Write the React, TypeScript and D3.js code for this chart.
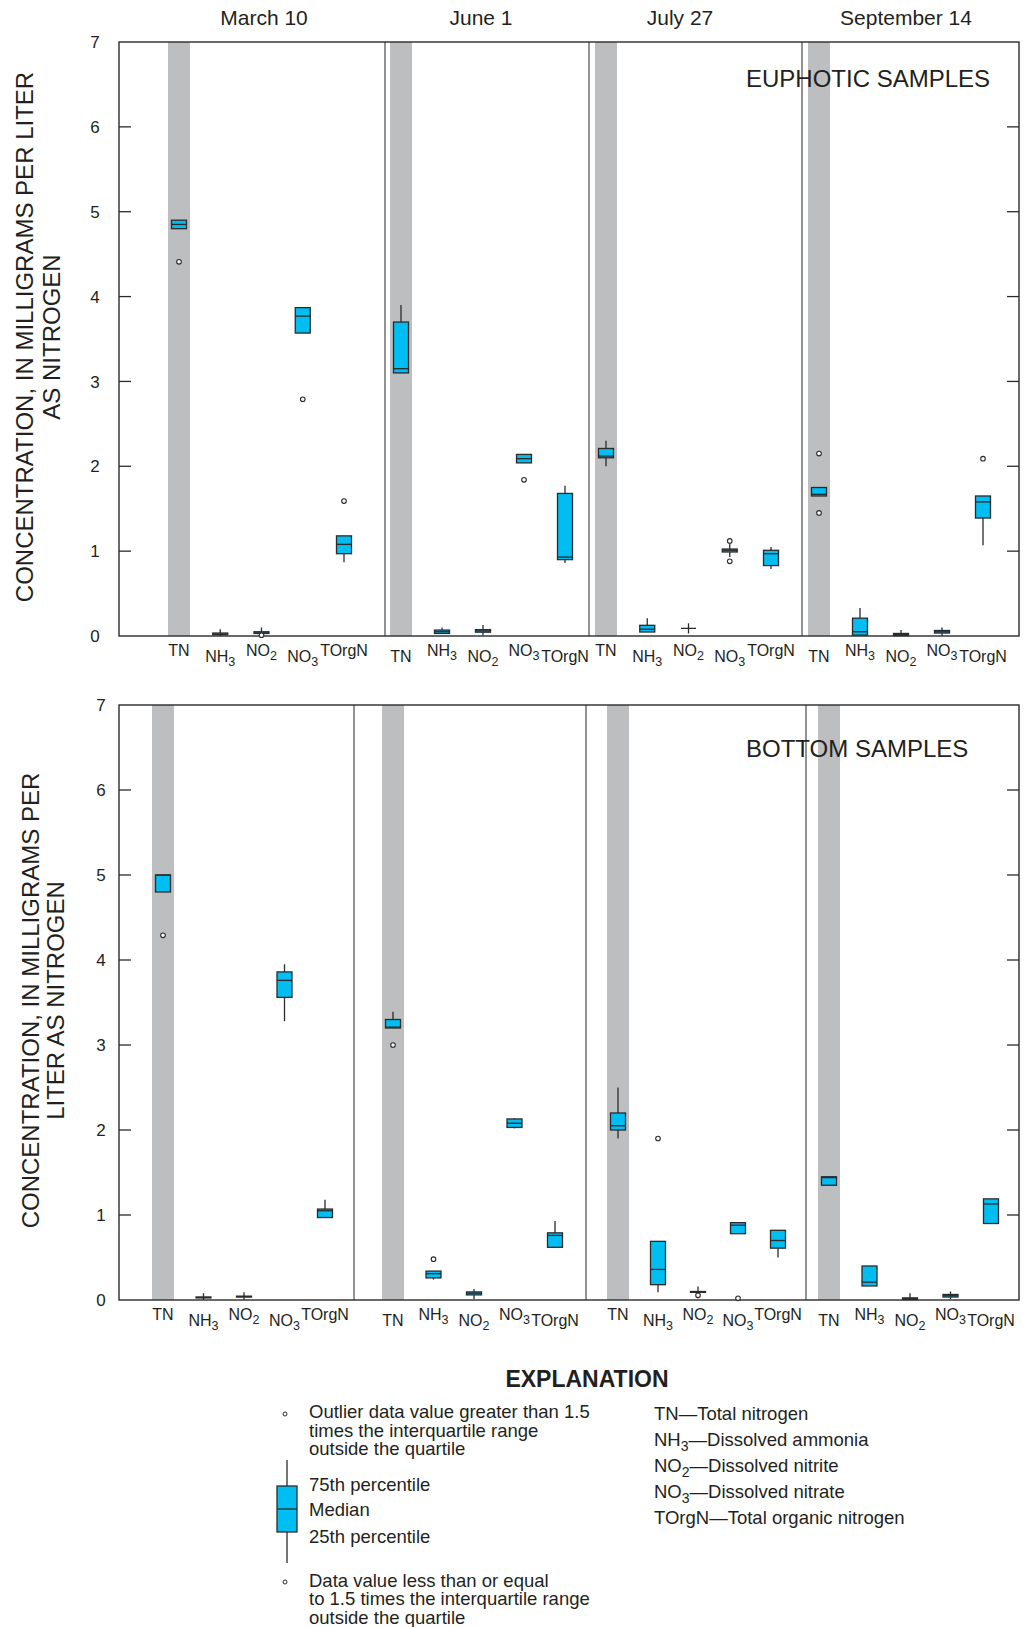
import React from "react";
import * as d3 from "d3";

// Sampling dates and constituents
const dates = ["March 10", "June 1", "July 27", "September 14"];
const categories = ["TN", "NH3", "NO2", "NO3", "TOrgN"];
const yTicks = [0, 1, 2, 3, 4, 5, 6, 7];

// box stats: [low whisker, 25th, median, 75th, high whisker, outliers]
type Box = [number, number, number, number, number, number[]];

const euphoticMarch: Box[] = [
  [4.8, 4.8, 4.85, 4.9, 4.9, [4.41]],
  [0.0, 0.015, 0.02, 0.035, 0.08, []],
  [0.0, 0.03, 0.035, 0.05, 0.1, [0.01]],
  [3.57, 3.57, 3.77, 3.87, 3.87, [2.79]],
  [0.87, 0.97, 1.08, 1.18, 1.18, [1.59]],
];
const euphoticJune: Box[] = [
  [3.1, 3.1, 3.15, 3.7, 3.9, []],
  [0.03, 0.03, 0.05, 0.07, 0.1, []],
  [0.01, 0.045, 0.06, 0.075, 0.13, []],
  [2.04, 2.04, 2.09, 2.14, 2.14, [1.84]],
  [0.86, 0.9, 0.93, 1.68, 1.77, []],
];
const euphoticJuly: Box[] = [
  [2.0, 2.1, 2.12, 2.21, 2.3, []],
  [0.047, 0.047, 0.08, 0.126, 0.21, []],
  [0.03, 0.09, 0.09, 0.09, 0.15, []],
  [0.93, 0.99, 1.01, 1.025, 1.09, [1.12, 0.88]],
  [0.79, 0.83, 0.97, 1.01, 1.05, []],
];
const euphoticSept: Box[] = [
  [1.65, 1.65, 1.67, 1.75, 1.75, [2.15, 1.45]],
  [0.01, 0.01, 0.05, 0.21, 0.33, []],
  [0.0, 0.005, 0.02, 0.03, 0.07, []],
  [0.0, 0.035, 0.05, 0.065, 0.1, []],
  [1.07, 1.39, 1.58, 1.65, 1.65, [2.09]],
];

const bottomMarch: Box[] = [
  [4.8, 4.8, 5.0, 5.0, 5.0, [4.29]],
  [0.0, 0.025, 0.03, 0.035, 0.08, []],
  [0.0, 0.035, 0.04, 0.045, 0.09, []],
  [3.28, 3.56, 3.76, 3.86, 3.95, []],
  [0.97, 0.97, 1.05, 1.07, 1.18, []],
];
const bottomJune: Box[] = [
  [3.2, 3.2, 3.21, 3.3, 3.39, [3.0]],
  [0.24, 0.26, 0.31, 0.34, 0.34, [0.48]],
  [0.01, 0.06, 0.08, 0.095, 0.13, []],
  [2.02, 2.03, 2.08, 2.13, 2.14, []],
  [0.62, 0.62, 0.76, 0.79, 0.93, []],
];
const bottomJuly: Box[] = [
  [1.9, 2.0, 2.05, 2.2, 2.5, []],
  [0.09, 0.18, 0.36, 0.69, 0.69, [1.9]],
  [0.02, 0.09, 0.09, 0.1, 0.16, [0.055]],
  [0.78, 0.78, 0.88, 0.91, 0.91, [0.02]],
  [0.5, 0.61, 0.7, 0.82, 0.82, []],
];
const bottomSept: Box[] = [
  [1.35, 1.35, 1.44, 1.45, 1.45, []],
  [0.165, 0.165, 0.21, 0.4, 0.4, []],
  [0.0, 0.005, 0.015, 0.025, 0.08, []],
  [0.01, 0.035, 0.05, 0.065, 0.1, []],
  [0.9, 0.9, 1.13, 1.19, 1.19, []],
];

const explanationLeft = [
  ["Outlier data value greater than 1.5", "times the interquartile range", "outside the quartile"],
  ["Data value less than or equal", "to 1.5 times the interquartile range", "outside the quartile"],
];
const boxLegend = ["75th percentile", "Median", "25th percentile"];
const explanationRight = [
  ["TN", "Total nitrogen"],
  ["NH3", "Dissolved ammonia"],
  ["NO2", "Dissolved nitrite"],
  ["NO3", "Dissolved nitrate"],
  ["TOrgN", "Total organic nitrogen"],
];

const FONT = "'Liberation Sans', Arial, Helvetica, sans-serif";
const INK = "#231f20";
const BOX_FILL = "#00bdf2";
const BAND = "#bcbec0";

const panels = [
  {
    data: [euphoticMarch, euphoticJune, euphoticJuly, euphoticSept],
    top: 42,
    bottom: 636,
    edges: [119, 385, 589, 802, 1019],
    spans: [[179, 344], [401, 565], [606, 771], [819, 983]],
    label: "EUPHOTIC SAMPLES",
    labelY: 87,
    tickX: 95,
    axisTitle: ["CONCENTRATION, IN MILLIGRAMS PER LITER", "AS NITROGEN"],
    axisTitleX: [33, 60],
  },
  {
    data: [bottomMarch, bottomJune, bottomJuly, bottomSept],
    top: 705,
    bottom: 1300,
    edges: [119, 354, 586, 806, 1019],
    spans: [[163, 325], [393, 555], [618, 778], [829, 991]],
    label: "BOTTOM SAMPLES",
    labelY: 757,
    tickX: 101,
    axisTitle: ["CONCENTRATION, IN MILLIGRAMS PER", "LITER AS NITROGEN"],
    axisTitleX: [39, 64],
  },
];

const dateX = [264, 481, 680, 906];
const boxW = 15;
const bandW = 22;

// splits "NO3" into ["NO", "3"]
const chem = (s: string) => {
  const m = s.match(/^(\D+)(\d)$/);
  return m ? [m[1], m[2]] : [s, ""];
};

const Chem = ({ name, sub = 12.5, shift = 4 }: { name: string; sub?: number; shift?: number }) => {
  const [base, digit] = chem(name);
  return (
    <>
      {base}
      {digit && (
        <tspan dy={shift} fontSize={sub}>
          {digit}
        </tspan>
      )}
    </>
  );
};

const Panel = ({ p, pIndex }: { p: (typeof panels)[number]; pIndex: number }) => {
  const y = d3.scaleLinear().domain([0, 7]).range([p.bottom, p.top]);
  const left = p.edges[0];
  const right = p.edges[p.edges.length - 1];

  return (
    <g>
      {/* gray TN bands */}
      {p.data.map((_, di) => {
        const x = d3.scalePoint<string>().domain(categories).range(p.spans[di] as [number, number]);
        return (
          <rect
            key={"band" + di}
            x={x("TN")! - bandW / 2}
            y={p.top}
            width={bandW}
            height={p.bottom - p.top}
            fill={BAND}
          />
        );
      })}

      {/* date dividers */}
      {p.edges.slice(1, -1).map((e, i) => (
        <line key={"div" + i} x1={e} x2={e} y1={p.top} y2={p.bottom} stroke="#3a3a3a" strokeWidth={1.1} />
      ))}

      {/* frame */}
      <rect x={left} y={p.top} width={right - left} height={p.bottom - p.top} fill="none" stroke="#2b2b2b" strokeWidth={1.4} />

      {/* ticks */}
      {yTicks.slice(1, -1).map((t) => (
        <g key={"t" + t}>
          <line x1={left} x2={left + 12} y1={y(t)} y2={y(t)} stroke="#2b2b2b" strokeWidth={1.3} />
          <line x1={right - 12} x2={right} y1={y(t)} y2={y(t)} stroke="#2b2b2b" strokeWidth={1.3} />
        </g>
      ))}
      {yTicks.map((t) => (
        <text key={"tl" + t} x={p.tickX} y={y(t)} dy="0.36em" textAnchor="middle" fontSize={17} fill={INK}>
          {t}
        </text>
      ))}

      {/* axis title */}
      {p.axisTitle.map((line, i) => (
        <text
          key={"at" + i}
          transform={`translate(${p.axisTitleX[i]},${(p.top + p.bottom) / 2 - 2}) rotate(-90)`}
          textAnchor="middle"
          fontSize={24}
          fill={INK}
        >
          {line}
        </text>
      ))}

      {/* boxes */}
      {p.data.map((boxes, di) => {
        const x = d3.scalePoint<string>().domain(categories).range(p.spans[di] as [number, number]);
        return boxes.map(([lo, q1, med, q3, hi, outs], ci) => {
          const cx = x(categories[ci])!;
          return (
            <g key={`b${di}-${ci}`}>
              {hi > q3 && <line x1={cx} x2={cx} y1={y(q3)} y2={y(hi)} stroke="#2b2b2b" strokeWidth={1.3} />}
              {lo < q1 && <line x1={cx} x2={cx} y1={y(q1)} y2={y(lo)} stroke="#2b2b2b" strokeWidth={1.3} />}
              <rect
                x={cx - boxW / 2}
                y={y(q3)}
                width={boxW}
                height={Math.max(0, y(q1) - y(q3))}
                fill={BOX_FILL}
                stroke="#2b2b2b"
                strokeWidth={1.3}
              />
              <line x1={cx - boxW / 2} x2={cx + boxW / 2} y1={y(med)} y2={y(med)} stroke="#2b2b2b" strokeWidth={1.3} />
              {outs.map((o, oi) => (
                <circle key={oi} cx={cx} cy={y(o)} r={2.3} fill="#fff" stroke="#2b2b2b" strokeWidth={1.1} />
              ))}
            </g>
          );
        });
      })}

      {/* category labels, alternating heights */}
      {p.data.map((_, di) => {
        const x = d3.scalePoint<string>().domain(categories).range(p.spans[di] as [number, number]);
        return categories.map((c, ci) => {
          const idx = di * categories.length + ci;
          const ly = p.bottom + (idx % 2 === 0 ? 20 : 26);
          return (
            <text key={`cl${di}-${ci}`} x={x(c)} y={ly} textAnchor="middle" fontSize={16} fill={INK}>
              <Chem name={c} />
            </text>
          );
        });
      })}

      <text x={746} y={p.labelY} fontSize={24} fill={INK}>
        {p.label}
      </text>

      {pIndex === 0 &&
        dates.map((d, i) => (
          <text key={d} x={dateX[i]} y={25} textAnchor="middle" fontSize={21} fill={INK}>
            {d}
          </text>
        ))}
    </g>
  );
};

const Explanation = () => {
  const bx = 287;
  const leg = d3.scaleLinear().domain([0, 1]).range([1532, 1486]); // legend box scale
  return (
    <g fill={INK} fontSize={18.5}>
      <text x={587} y={1387} textAnchor="middle" fontSize={23} fontWeight="bold">
        EXPLANATION
      </text>

      <circle cx={285} cy={1414} r={2} fill="#fff" stroke="#2b2b2b" strokeWidth={1} />
      {explanationLeft[0].map((l, i) => (
        <text key={"o" + i} x={309} y={1418 + i * 18.6}>
          {l}
        </text>
      ))}

      <line x1={bx} x2={bx} y1={1460} y2={leg(1)} stroke="#2b2b2b" strokeWidth={1.3} />
      <line x1={bx} x2={bx} y1={leg(0)} y2={1563} stroke="#2b2b2b" strokeWidth={1.3} />
      <rect x={bx - 10} y={leg(1)} width={20} height={leg(0) - leg(1)} fill={BOX_FILL} stroke="#2b2b2b" strokeWidth={1.3} />
      <line x1={bx - 10} x2={bx + 10} y1={leg(0.5)} y2={leg(0.5)} stroke="#2b2b2b" strokeWidth={1.3} />
      {boxLegend.map((l, i) => (
        <text key={"b" + i} x={309} y={[1491, 1516, 1543][i]}>
          {l}
        </text>
      ))}

      <circle cx={285} cy={1582} r={2} fill="#fff" stroke="#2b2b2b" strokeWidth={1} />
      {explanationLeft[1].map((l, i) => (
        <text key={"d" + i} x={309} y={1587 + i * 18.4}>
          {l}
        </text>
      ))}

      {explanationRight.map(([abbr, desc], i) => {
        const [, digit] = chem(abbr);
        return (
          <text key={"r" + i} x={654} y={1420 + i * 26}>
            <Chem name={abbr} sub={14} shift={5} />
            <tspan dy={digit ? -5 : 0}>{"\u2014" + desc}</tspan>
          </text>
        );
      })}
    </g>
  );
};

const App = () => {
  return (
    <div>
      <style>{`body{margin:0}`}</style>
      <svg width={1024} height={1627} style={{ display: "block", background: "#fff", fontFamily: FONT }}>
        {panels.map((p, i) => (
          <Panel key={i} p={p} pIndex={i} />
        ))}
        <Explanation />
      </svg>
    </div>
  );
};

export default App;
